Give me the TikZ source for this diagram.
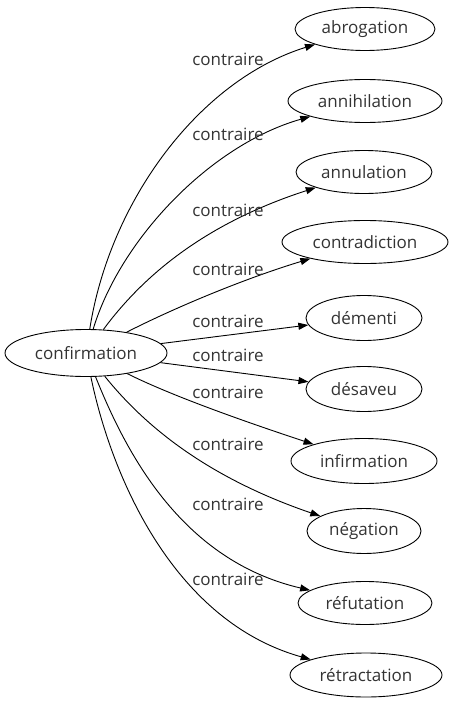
\documentclass[tikz,border=0pt]{standalone}
\usepackage{fontspec}
\setmainfont{Open Sans}
\usetikzlibrary{arrows.meta,shapes.geometric}
\begin{document}
\begin{tikzpicture}[x=1pt,y=-1pt,
  word/.style={draw=black,ellipse,line width=0.9pt,inner sep=0pt,font=\fontsize{17}{20}\selectfont,text=black!80},
  rel/.style={font=\fontsize{17}{20}\selectfont,text=black!80,anchor=base,inner sep=0pt},
  link/.style={line width=0.9pt,-{Triangle[length=10pt,width=7pt]}}]
\useasboundingbox (0,0) rectangle (453,707);
\node[word,minimum width=162pt,minimum height=47pt] (c) at (86,353) {confirmation};
\node[word,minimum width=140pt,minimum height=43pt] (t1) at (365,29) {abrogation};
\node[word,minimum width=154pt,minimum height=43pt] (t2) at (365,101) {annihilation};
\node[word,minimum width=136pt,minimum height=43pt] (t3) at (364,172) {annulation};
\node[word,minimum width=166pt,minimum height=43pt] (t4) at (365,242) {contradiction};
\node[word,minimum width=116pt,minimum height=45pt] (t5) at (364,318) {démenti};
\node[word,minimum width=116pt,minimum height=45pt] (t6) at (364,389) {désaveu};
\node[word,minimum width=146pt,minimum height=45pt] (t7) at (364,461) {infirmation};
\node[word,minimum width=114pt,minimum height=45pt] (t8) at (364,531) {négation};
\node[word,minimum width=134pt,minimum height=43pt] (t9) at (365,603) {réfutation};
\node[word,minimum width=152pt,minimum height=44pt] (t10) at (366,675) {rétractation};
\draw[link] (c) .. controls (110,200) and (200,80) .. (t1);
\draw[link] (c) .. controls (120,240) and (210,145) .. (t2);
\draw[link] (c) .. controls (140,280) and (200,225) .. (t3);
\draw[link] (c) .. controls (170,310) and (240,280) .. (t4);
\draw[link] (c) -- (t5);
\draw[link] (c) -- (t6);
\draw[link] (c) .. controls (170,395) and (240,420) .. (t7);
\draw[link] (c) .. controls (140,420) and (200,475) .. (t8);
\draw[link] (c) .. controls (125,450) and (180,560) .. (t9);
\draw[link] (c) .. controls (110,470) and (170,620) .. (t10);
\node[rel] (l1) at (228,65) {contraire};
\node[rel] (l2) at (228,140) {contraire};
\node[rel] (l3) at (228,216) {contraire};
\node[rel] (l4) at (228,275) {contraire};
\node[rel] (l5) at (228,327) {contraire};
\node[rel] (l6) at (228,361) {contraire};
\node[rel] (l7) at (228,398) {contraire};
\node[rel] (l8) at (228,450) {contraire};
\node[rel] (l9) at (228,510) {contraire};
\node[rel] (l10) at (228,585) {contraire};
\end{tikzpicture}
\end{document}
